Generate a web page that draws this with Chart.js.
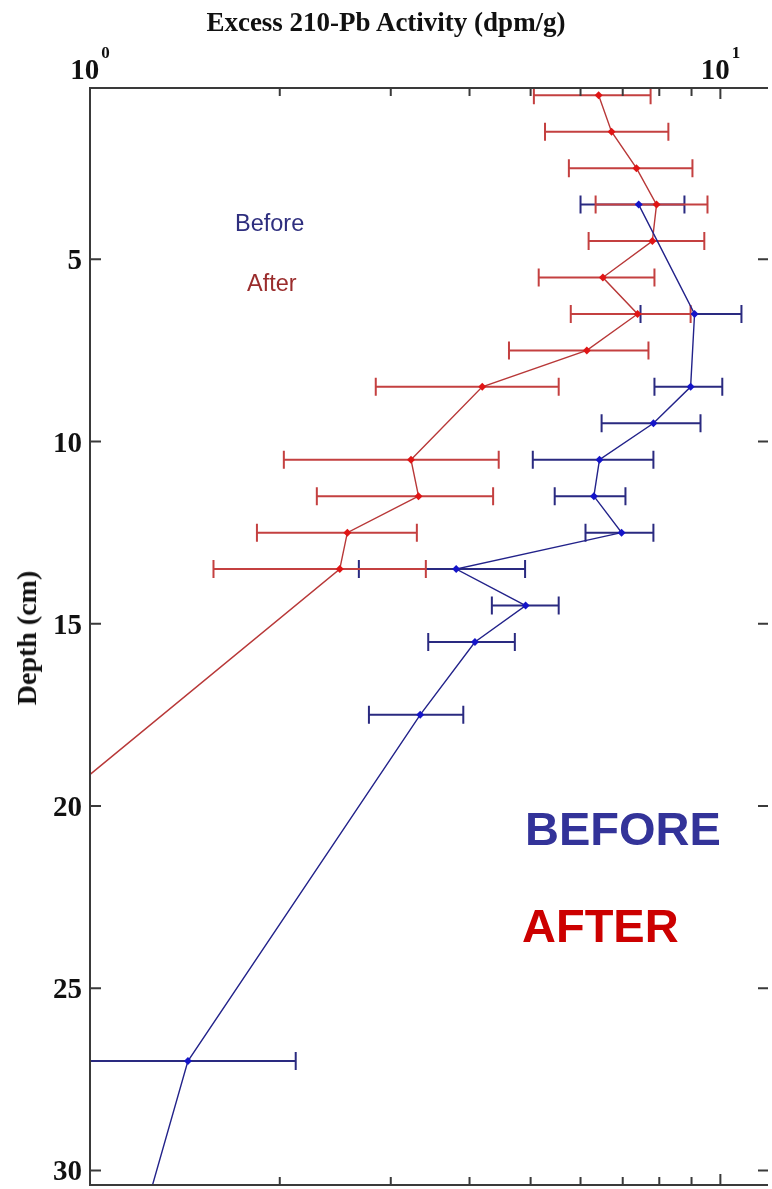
<!DOCTYPE html>
<html>
<head>
<meta charset="utf-8">
<title>Excess 210-Pb Activity</title>
<script src="https://cdn.jsdelivr.net/npm/chart.js@4.4.1/dist/chart.umd.min.js"></script>
<style>
    html, body { margin: 0; padding: 0; background: #fff; overflow: hidden; }
    #wrap { position: relative; width: 772px; height: 1189px; }
    #chart { position: absolute; left: 0; top: 0; }
    .lbl { position: absolute; white-space: nowrap; line-height: 1; }
    .serif { font-family: "Liberation Serif", "Times New Roman", serif; font-weight: bold; color: #111; }
    .sans { font-family: "Liberation Sans", Arial, sans-serif; }
    #title { left: 386px; top: 9px; font-size: 27px; transform: translateX(-50%); }
    #ytitle { left: 27px; top: 638px; font-size: 28px; transform: translate(-50%, -50%) rotate(-90deg); }
    #before-s { left: 235px; top: 212px; font-size: 23.5px; color: #2e2e7e; }
    #after-s { left: 247px; top: 272px; font-size: 23.5px; color: #9a2c2c; }
    #before-b { left: 525px; top: 805px; font-size: 47px; font-weight: bold; color: #333399; }
    #after-b { left: 522px; top: 902px; font-size: 47px; font-weight: bold; color: #cc0000; }
</style>
</head>
<body>
<div id="wrap">
    <canvas id="chart" width="772" height="1189"></canvas>
    <div class="lbl serif" id="title">Excess 210-Pb Activity (dpm/g)</div>
    <div class="lbl serif" id="ytitle">Depth (cm)</div>
    <div class="lbl sans" id="before-s">Before</div>
    <div class="lbl sans" id="after-s">After</div>
    <div class="lbl sans" id="before-b">BEFORE</div>
    <div class="lbl sans" id="after-b">AFTER</div>
</div>
<script>
// After (red): depth in cm, activity in dpm/g, error bar ends
const depthAfter = [0.5, 1.5, 2.5, 3.5, 4.5, 5.5, 6.5, 7.5, 8.5, 10.5, 11.5, 12.5, 13.5, 27];
const actAfter   = [6.41, 6.72, 7.36, 7.92, 7.80, 6.51, 7.39, 6.14, 4.19, 3.23, 3.32, 2.56, 2.49, 0.28];
const loAfter    = [5.06, 5.27, 5.75, 6.34, 6.18, 5.15, 5.79, 4.62, 2.84, 2.03, 2.29, 1.84, 1.57, null];
const hiAfter    = [7.75, 8.27, 9.03, 9.54, 9.43, 7.86, 8.97, 7.69, 5.54, 4.45, 4.36, 3.30, 3.41, null];

// Before (blue)
const depthBefore = [3.5, 6.5, 8.5, 9.5, 10.5, 11.5, 12.5, 13.5, 14.5, 15.5, 17.5, 27, 32.5];
const actBefore   = [7.42, 9.10, 8.97, 7.83, 6.43, 6.30, 6.97, 3.81, 4.91, 4.08, 3.34, 1.43, 1.16];
const loBefore    = [6.00, 7.47, 7.86, 6.48, 5.04, 5.46, 6.11, 2.67, 4.34, 3.44, 2.77, 0.74, null];
const hiBefore    = [8.77, 10.80, 10.07, 9.30, 7.83, 7.07, 7.83, 4.90, 5.54, 4.72, 3.91, 2.12, null];

// axes
const xMajor = [1, 10];
const xMajorExp = ['0', '1'];
const xMinor = [2, 3, 4, 5, 6, 7, 8, 9];
const yTicks = [5, 10, 15, 20, 25, 30];

const series = [
    { depth: depthBefore, lo: loBefore, hi: hiBefore, bar: '#2a2a80' },
    { depth: depthAfter, lo: loAfter, hi: hiAfter, bar: '#c44040' }
];

const toPoints = (xs, ys) => xs.map((v, i) => ({ x: v, y: ys[i] }));

// error bars under the lines
const errorBars = {
    id: 'errorBars',
    beforeDatasetsDraw(chart) {
        const { ctx, chartArea: a, scales: { x, y } } = chart;
        ctx.save();
        ctx.beginPath();
        ctx.rect(a.left, a.top, a.right - a.left, a.bottom - a.top);
        ctx.clip();
        ctx.lineWidth = 2;
        series.forEach(s => {
            ctx.strokeStyle = s.bar;
            s.depth.forEach((d, i) => {
                if (s.lo[i] == null) return;
                const py = y.getPixelForValue(d);
                const x0 = x.getPixelForValue(s.lo[i]);
                const x1 = x.getPixelForValue(s.hi[i]);
                ctx.beginPath();
                ctx.moveTo(x0, py); ctx.lineTo(x1, py);
                ctx.moveTo(x0, py - 9); ctx.lineTo(x0, py + 9);
                ctx.moveTo(x1, py - 9); ctx.lineTo(x1, py + 9);
                ctx.stroke();
            });
        });
        ctx.restore();
    }
};

// frame, inward ticks and tick labels
const frame = {
    id: 'frame',
    afterDraw(chart) {
        const { ctx, chartArea: a, scales: { x, y } } = chart;
        ctx.save();
        ctx.strokeStyle = '#3a3a3a';
        ctx.lineWidth = 2;
        ctx.beginPath();
        ctx.moveTo(a.right, a.top); ctx.lineTo(a.left, a.top);
        ctx.lineTo(a.left, a.bottom); ctx.lineTo(a.right, a.bottom);
        ctx.stroke();

        ctx.beginPath();
        xMinor.concat(xMajor).forEach(v => {
            const px = x.getPixelForValue(v);
            const len = v === 10 ? 11 : 8;
            ctx.moveTo(px, a.top); ctx.lineTo(px, a.top + len);
            ctx.moveTo(px, a.bottom); ctx.lineTo(px, a.bottom - len);
        });
        yTicks.forEach(v => {
            const py = y.getPixelForValue(v);
            ctx.moveTo(a.left, py); ctx.lineTo(a.left + 11, py);
            ctx.moveTo(a.right, py); ctx.lineTo(a.right - 10, py);
        });
        ctx.stroke();

        ctx.fillStyle = '#111';
        ctx.textBaseline = 'alphabetic';
        const big = 'bold 29px "Liberation Serif", serif';
        const small = 'bold 17px "Liberation Serif", serif';
        xMajor.forEach((v, i) => {
            const px = x.getPixelForValue(v);
            ctx.font = big;
            const w1 = ctx.measureText('10').width;
            ctx.font = small;
            const w2 = ctx.measureText(xMajorExp[i]).width;
            const start = px - (w1 + 2 + w2) / 2;
            ctx.textAlign = 'left';
            ctx.font = big;
            ctx.fillText('10', start, 79);
            ctx.font = small;
            ctx.fillText(xMajorExp[i], start + w1 + 2, 58);
        });
        ctx.font = big;
        ctx.textAlign = 'right';
        yTicks.forEach(v => {
            const py = y.getPixelForValue(v);
            ctx.fillText(String(v), a.left - 8, py + 10);
        });
        ctx.restore();
    }
};

new Chart(document.getElementById('chart'), {
    type: 'line',
    data: {
        datasets: [
            {
                label: 'Before',
                data: toPoints(actBefore, depthBefore),
                borderColor: '#22228a',
                borderWidth: 1.4,
                pointStyle: 'rectRot',
                pointRadius: 4,
                pointBackgroundColor: '#1515c8',
                pointBorderColor: '#1515c8',
                pointBorderWidth: 0,
                tension: 0
            },
            {
                label: 'After',
                data: toPoints(actAfter, depthAfter),
                borderColor: '#b83838',
                borderWidth: 1.4,
                pointStyle: 'rectRot',
                pointRadius: 4,
                pointBackgroundColor: '#e01515',
                pointBorderColor: '#e01515',
                pointBorderWidth: 0,
                tension: 0
            }
        ]
    },
    options: {
        responsive: false,
        animation: false,
        layout: { padding: { left: 90, top: 88, right: 0, bottom: 3 } },
        plugins: { legend: { display: false }, tooltip: { enabled: false } },
        scales: {
            x: { type: 'logarithmic', position: 'top', min: 1, max: 11.9, display: false },
            y: { type: 'linear', reverse: true, min: 0.3, max: 30.4, display: false }
        }
    },
    plugins: [errorBars, frame]
});
</script>
</body>
</html>
